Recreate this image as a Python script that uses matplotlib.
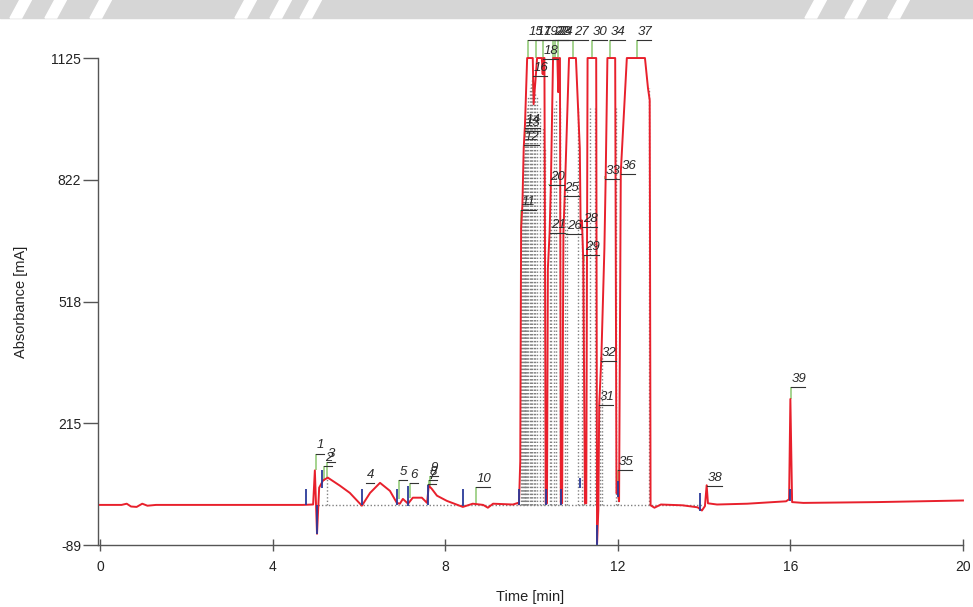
import numpy as np
import matplotlib.pyplot as plt
from matplotlib.patches import Rectangle, Polygon

plt.rcParams['font.family'] = ['Liberation Sans', 'DejaVu Sans']

# Detector trace (time in min, absorbance in mA)
trace_t = [0.0, 0.5, 0.62, 0.72, 0.85, 0.98, 1.1, 1.3, 4.7,
           4.94, 4.98, 5.03, 5.08, 5.17, 5.28, 5.56, 5.79, 6.07, 6.26, 6.49,
           6.72, 6.88, 6.95, 7.02, 7.14, 7.25, 7.46, 7.58, 7.62, 7.69, 7.81,
           8.04, 8.41, 8.64, 8.88, 8.99, 9.11, 9.57, 9.69,
           9.71, 9.74, 9.76, 9.79, 9.82, 9.85, 9.90, 10.03, 10.05, 10.10,
           10.13, 10.24, 10.26, 10.28, 10.30, 10.33, 10.36, 10.38, 10.42,
           10.45, 10.50, 10.60, 10.62, 10.64, 10.66, 10.68, 10.71, 10.74,
           10.77, 10.87, 11.03, 11.08, 11.12, 11.14, 11.17, 11.20, 11.24,
           11.27, 11.30, 11.50, 11.52, 11.55, 11.57, 11.62, 11.69, 11.72,
           11.76, 11.94, 11.97, 12.00, 12.03, 12.07, 12.21, 12.63, 12.70,
           12.74, 12.76, 12.85, 13.0, 13.5, 13.85, 13.95, 14.02, 14.06,
           14.09, 14.3, 15.0, 15.9, 15.97, 16.0, 16.04, 16.3, 18.0, 20.0]
trace_v = [11, 11, 14, 7, 6, 14, 9, 11, 11,
           12, 97, -61, 54, 72, 79, 59, 41, 9, 41, 66,
           46, 16, 14, 26, 14, 29, 29, 16, 59, 51, 34,
           21, 6, 14, 11, 4, 14, 12, 16,
           12, 120, 700, 760, 900, 960, 1125, 1125, 1010, 1080,
           1125, 1125, 1085, 1125, 1125, 15, 15, 600, 690,
           810, 1125, 1125, 1040, 1125, 1125, 15, 15, 690,
           780, 1125, 1125, 1000, 900, 700, 720, 620, 15,
           15, 1125, 1125, -85, 0, 260, 380, 650, 830,
           1125, 1125, 40, 45, 20, 840, 1125, 1125, 1050,
           1020, 10, 4, 12, 10, 5, -3, 8, 60,
           15, 12, 14, 20, 25, 275, 18, 16, 18, 22]

# Peak annotations: number, retention time, apex level, label level
peak_ids = list(range(1, 40))
peak_t = [5.01, 5.19, 5.26, 6.16, 6.93, 7.18, 7.60, 7.62, 7.65, 8.71,
          9.76, 9.83, 9.85, 9.86, 9.92, 10.03, 10.10, 10.27, 10.27, 10.41,
          10.43, 10.50, 10.55, 10.61, 10.75, 10.80, 10.96, 11.17, 11.22, 11.40,
          11.56, 11.61, 11.70, 11.82, 12.00, 12.07, 12.44, 14.07, 16.01]
peak_apex = [97, 70, 79, 66, 26, 29, 59, 59, 59, 14,
             700, 900, 930, 940, 1125, 1040, 1125, 1085, 1125, 810,
             690, 1125, 1125, 1125, 780, 690, 1125, 700, 620, 1125,
             260, 380, 830, 1125, 45, 840, 1125, 60, 275]
label_v = [139, 107, 119, 66, 74, 66, 64, 74, 84, 56,
           746, 909, 942, 950, 1170, 1080, 1170, 1122, 1170, 809,
           688, 1170, 1170, 1170, 781, 686, 1170, 704, 633, 1170,
           260, 370, 824, 1170, 97, 836, 1170, 59, 305]

# Integration marks (blue) and drop lines (grey dotted)
mark_t = [4.77, 5.03, 5.15, 6.07, 6.88, 7.14, 7.60, 8.41, 9.71, 10.33,
          10.68, 11.12, 11.52, 12.00, 13.90, 15.98]
mark_lo = [11, -61, 54, 11, 11, 9, 11, 8, 11, 11, 11, 54, -89, 30, -5, 20]
mark_hi = [50, 11, 97, 50, 50, 59, 60, 50, 50, 50, 50, 79, -40, 70, 40, 50]
drop_t = [5.26, 9.76, 9.78, 9.80, 9.82, 9.84, 9.86, 9.88, 9.90, 9.93, 9.96,
          9.99, 10.02, 10.05, 10.09, 10.13, 10.20, 10.27, 10.31, 10.43, 10.46,
          10.52, 10.58, 10.65, 10.77, 10.82, 11.08, 11.18, 11.22, 11.36,
          11.47, 11.58, 11.63, 11.95, 12.01, 12.72]
drop_v = [79, 700, 730, 800, 880, 900, 950, 980, 1000, 1030, 1050,
          1060, 1070, 1050, 1040, 1030, 1000, 950, 900, 700, 800,
          1000, 1020, 1000, 780, 800, 1000, 700, 620, 1000,
          1000, 260, 380, 1000, 45, 1050]
baseline_v = 11

xticks = [0, 4, 8, 12, 16, 20]
yticks = [-89, 215, 518, 822, 1125]

fig = plt.figure(figsize=(9.73, 6.07), dpi=100)

# grey scanner band along the top edge, with a few white diagonal streaks
band_h = 18 / 607
fig.patches.append(Rectangle((0, 1 - band_h), 1, band_h, transform=fig.transFigure,
                             color='#d6d6d6', zorder=0))
for x0 in [10, 45, 90, 235, 270, 300, 805, 845, 888]:
    x0 = x0 / 973
    fig.patches.append(Polygon([(x0, 1 - band_h), (x0 + 0.012, 1 - band_h),
                                (x0 + 0.022, 1), (x0 + 0.010, 1)],
                               closed=True, transform=fig.transFigure,
                               color='white', zorder=0))

ax = fig.add_axes([0.1007, 0.1021, 0.889, 0.8023])

ax.hlines(baseline_v, 5.05, 13.95, colors='#808080', linestyles=(0, (1, 1.5)), lw=1.0, zorder=1)
ax.vlines(drop_t, baseline_v, drop_v, colors='#808080', linestyles=(0, (1, 1.5)), lw=1.0, zorder=1)
ax.plot(trace_t, trace_v, color='#e8202c', lw=1.4, zorder=3, clip_on=False)
ax.vlines(mark_t, mark_lo, mark_hi, colors='#2b3a9a', lw=1.3, zorder=4, clip_on=False)
ax.vlines(peak_t, peak_apex, label_v, colors='#8cc870', lw=1.1, zorder=2, clip_on=False)

for n, t, lv in zip(peak_ids, peak_t, label_v):
    w = 0.34 if n > 9 else 0.19
    ax.plot([t, t + w], [lv, lv], color='#333333', lw=0.8, zorder=5, clip_on=False)
    ax.annotate(str(n), (t, lv), xytext=(0.5, 1.5), textcoords='offset points',
                ha='left', va='bottom', fontsize=9.5, style='italic', color='#2a2a2a',
                zorder=5, annotation_clip=False)

ax.set_xlim(-0.046, 20)
ax.set_ylim(-89, 1125)
ax.set_xticks(xticks)
ax.set_yticks(yticks)
ax.set_xticklabels([str(v) for v in xticks])
ax.set_yticklabels([str(v) for v in yticks])
for side in ['top', 'right']:
    ax.spines[side].set_visible(False)
for side in ['left', 'bottom']:
    ax.spines[side].set_color('#555555')
    ax.spines[side].set_linewidth(1.0)
ax.tick_params(axis='y', direction='out', length=11, width=1.0, color='#555555',
               pad=1, labelsize=10, labelcolor='#222222')
ax.tick_params(axis='x', direction='inout', length=9, width=1.0, color='#555555',
               pad=6, labelsize=10, labelcolor='#222222')
ax.set_xlabel('Time [min]', fontsize=10.5, color='#222222', labelpad=12)
ax.set_ylabel('Absorbance [mA]', fontsize=10.5, color='#222222', labelpad=17)

fig.savefig('out.png', dpi=100)
